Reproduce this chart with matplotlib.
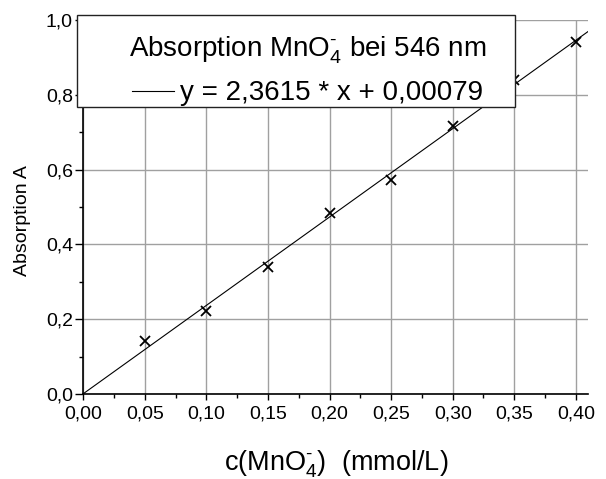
import matplotlib
matplotlib.use("Agg")
import matplotlib.pyplot as plt
import numpy as np
from matplotlib.patches import Rectangle
from matplotlib.ticker import MultipleLocator

plt.rcParams["font.family"] = ["Liberation Sans", "DejaVu Sans"]
plt.rcParams["mathtext.fontset"] = "custom"
plt.rcParams["mathtext.rm"] = "Liberation Sans"
plt.rcParams["mathtext.it"] = "Liberation Sans:italic"
plt.rcParams["mathtext.bf"] = "Liberation Sans:bold"
plt.rcParams["mathtext.default"] = "regular"

# Messwerte
konzentration = [0.05, 0.10, 0.15, 0.20, 0.25, 0.30, 0.35, 0.40]
absorption = [0.142, 0.222, 0.339, 0.483, 0.572, 0.717, 0.840, 0.941]

# lineare Regression
steigung = 2.3615
achsenabschnitt = 0.00079
fit_x = np.array([0.0, 0.41])

x_ticks = [0.00, 0.05, 0.10, 0.15, 0.20, 0.25, 0.30, 0.35, 0.40]
x_tick_labels = ["0,00", "0,05", "0,10", "0,15", "0,20", "0,25", "0,30", "0,35", "0,40"]
y_ticks = [0.0, 0.2, 0.4, 0.6, 0.8, 1.0]
y_tick_labels = ["0,0", "0,2", "0,4", "0,6", "0,8", "1,0"]

ion = r"MnO$_4^{\text{-}}$"

fig = plt.figure(figsize=(6.06, 4.79), dpi=100)
ax = fig.add_axes([0.1375, 0.1775, 0.833, 0.781])

ax.plot(fit_x, steigung * fit_x + achsenabschnitt, color="black", lw=0.8,
        label="y = 2,3615 * x + 0,00079")
ax.plot(konzentration, absorption, linestyle="none", marker="x", color="black",
        markersize=7, markeredgewidth=1.3)

ax.set_xlim(0, 0.41)
ax.set_ylim(0, 1.0)
ax.set_xticks(x_ticks)
ax.set_xticklabels(x_tick_labels)
ax.set_yticks(y_ticks)
ax.set_yticklabels(y_tick_labels)
ax.xaxis.set_minor_locator(MultipleLocator(0.025))
ax.yaxis.set_minor_locator(MultipleLocator(0.1))
ax.tick_params(axis="x", which="major", direction="out", length=4, width=1, labelsize=14, pad=4)
ax.tick_params(axis="x", which="minor", direction="out", length=3, width=1)
ax.tick_params(axis="y", which="major", direction="out", length=5.5, width=1, labelsize=14, pad=2)
ax.tick_params(axis="y", which="minor", direction="out", length=2.7, width=1)

ax.grid(True, which="major", color="#a0a0a0", lw=1)
ax.set_axisbelow(True)
for s in ["top", "right"]:
    ax.spines[s].set_visible(False)
for s in ["left", "bottom"]:
    ax.spines[s].set_linewidth(1.2)

ax.set_xlabel("c(" + ion + ")  (mmol/L)", fontsize=19.5)
ax.xaxis.set_label_coords(0.5, -0.147)
ax.set_ylabel("Absorption A", fontsize=14)
ax.yaxis.set_label_coords(-0.104, 0.463)

# Legendenkasten
box = Rectangle((77 / 606, (479 - 107) / 479), 438 / 606, 92 / 479,
                transform=fig.transFigure, facecolor="white", edgecolor="#222222",
                lw=1, zorder=4, clip_on=False)
ax.add_patch(box)
leg = ax.legend(title="Absorption " + ion + " bei 546 nm", loc="upper left",
                bbox_to_anchor=(129 / 606, (479 - 35) / 479), bbox_transform=fig.transFigure,
                frameon=False, fontsize=20, title_fontsize=20, borderpad=0,
                handlelength=1.5, handletextpad=0.22, borderaxespad=0)
leg.set_zorder(5)

fig.savefig("out.png", dpi=100)
